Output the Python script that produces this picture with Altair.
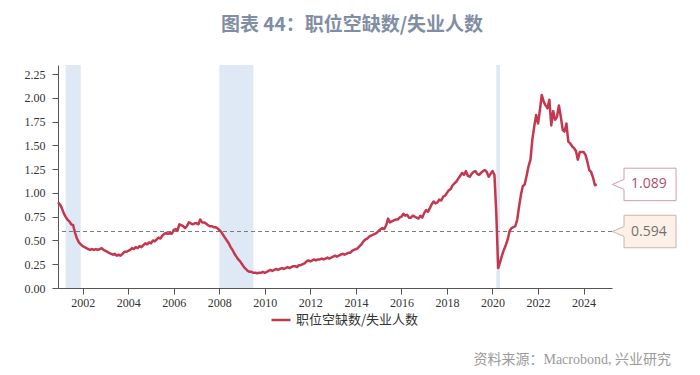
import altair as alt
import pandas as pd

# ---- data ----
series_name = "职位空缺数/失业人数"
v2000 = [0.90]
v2001 = [0.88, 0.84, 0.79, 0.75, 0.72, 0.70, 0.67, 0.66, 0.58, 0.52, 0.48, 0.46]
v2002 = [0.44, 0.43, 0.42, 0.41, 0.40, 0.41, 0.40, 0.41, 0.40, 0.41, 0.42, 0.40]
v2003 = [0.39, 0.38, 0.37, 0.36, 0.35, 0.36, 0.34, 0.35, 0.34, 0.36, 0.38, 0.38]
v2004 = [0.39, 0.40, 0.42, 0.41, 0.43, 0.42, 0.44, 0.43, 0.45, 0.47, 0.46, 0.48]
v2005 = [0.47, 0.50, 0.49, 0.51, 0.53, 0.52, 0.55, 0.57, 0.58, 0.57, 0.58, 0.57]
v2006 = [0.61, 0.62, 0.60, 0.67, 0.66, 0.65, 0.63, 0.65, 0.69, 0.68, 0.67, 0.68]
v2007 = [0.68, 0.67, 0.72, 0.69, 0.69, 0.68, 0.66, 0.65, 0.65, 0.64, 0.64, 0.63]
v2008 = [0.61, 0.59, 0.56, 0.53, 0.50, 0.47, 0.43, 0.40, 0.36, 0.33, 0.30, 0.28]
v2009 = [0.25, 0.22, 0.20, 0.18, 0.17, 0.17, 0.16, 0.16, 0.155, 0.16, 0.16, 0.17]
v2010 = [0.16, 0.17, 0.18, 0.19, 0.18, 0.19, 0.20, 0.19, 0.20, 0.21, 0.20, 0.21]
v2011 = [0.22, 0.21, 0.22, 0.23, 0.23, 0.22, 0.24, 0.24, 0.25, 0.26, 0.28, 0.29]
v2012 = [0.28, 0.29, 0.30, 0.29, 0.30, 0.30, 0.31, 0.30, 0.31, 0.32, 0.31, 0.32]
v2013 = [0.33, 0.34, 0.33, 0.34, 0.35, 0.36, 0.35, 0.36, 0.37, 0.37, 0.39, 0.40]
v2014 = [0.41, 0.42, 0.44, 0.46, 0.49, 0.51, 0.52, 0.54, 0.55, 0.56, 0.57, 0.58]
v2015 = [0.60, 0.62, 0.63, 0.62, 0.66, 0.73, 0.69, 0.70, 0.71, 0.72, 0.72, 0.74]
v2016 = [0.75, 0.78, 0.76, 0.77, 0.74, 0.74, 0.76, 0.75, 0.74, 0.73, 0.76, 0.74]
v2017 = [0.79, 0.82, 0.80, 0.84, 0.88, 0.91, 0.89, 0.90, 0.93, 0.92, 0.96, 0.97]
v2018 = [1.00, 1.03, 1.04, 1.08, 1.10, 1.12, 1.15, 1.18, 1.21, 1.19, 1.23, 1.18]
v2019 = [1.17, 1.20, 1.22, 1.23, 1.20, 1.19, 1.21, 1.23, 1.24, 1.22, 1.17, 1.20]
v2020 = [1.23, 1.19, 0.80, 0.21, 0.27, 0.34, 0.40, 0.45, 0.51, 0.60, 0.63, 0.64]
v2021 = [0.65, 0.72, 0.85, 0.98, 1.07, 1.09, 1.18, 1.28, 1.35, 1.56, 1.70, 1.82]
v2022 = [1.73, 1.88, 2.03, 1.96, 1.92, 1.89, 1.98, 1.71, 1.86, 1.77, 1.80, 1.92]
v2023 = [1.80, 1.66, 1.645, 1.73, 1.54, 1.52, 1.49, 1.47, 1.44, 1.35, 1.43, 1.43]
v2024 = [1.43, 1.40, 1.33, 1.24, 1.22, 1.16, 1.08, 1.089]

first_month = "2000-12-01"

rec_start = ["2001-04-01", "2008-01-01", "2020-03-01"]
rec_end = ["2001-12-01", "2009-07-01", "2020-05-01"]

ref_value = [0.594]

callout_values = [1.089, 0.594]
callout_labels = ["1.089", "0.594"]
callout_fill = ["#ffffff", "#fdf0e6"]
callout_stroke = ["#d29aaa", "#c4b8ad"]
callout_text = ["#a9506a", "#707070"]

y_ticks = [0.0, 0.25, 0.5, 0.75, 1.0, 1.25, 1.5, 1.75, 2.0, 2.25]
x_tick_years = list(range(2002, 2025, 2))

title_text = "图表 44：职位空缺数/失业人数"
source_text = "资料来源：Macrobond, 兴业研究"

# ---- tables ----
values = (v2000 + v2001 + v2002 + v2003 + v2004 + v2005 + v2006 + v2007 + v2008
          + v2009 + v2010 + v2011 + v2012 + v2013 + v2014 + v2015 + v2016 + v2017
          + v2018 + v2019 + v2020 + v2021 + v2022 + v2023 + v2024)
months = pd.date_range(first_month, periods=len(values), freq="MS")
df = pd.DataFrame({"date": months, "ratio": values, "series": series_name})
rec_df = pd.DataFrame({"start": pd.to_datetime(rec_start), "end": pd.to_datetime(rec_end)})
ref_df = pd.DataFrame({"value": ref_value})

LINE = "#c4384f"
SERIF = "Liberation Serif, Noto Sans CJK SC"
CJK = "Noto Sans CJK SC"

x_scale = alt.Scale(domain=[alt.DateTime(year=2000, month=12, date=1),
                            alt.DateTime(year=2025, month=4, date=1)], nice=False)
y_scale = alt.Scale(domain=[0, 2.345], nice=False, zero=True)

x_axis = alt.Axis(values=[alt.DateTime(year=y, month=1, date=1) for y in x_tick_years],
                  format="%Y", title=None, grid=False, labelFont=SERIF, labelFontSize=12,
                  labelColor="#333333", tickSize=6, tickColor="#555555",
                  domainColor="#555555", labelPadding=3, labelFlush=False)
y_axis = alt.Axis(values=y_ticks, format=".2f", title=None, grid=False, labelFont=SERIF,
                  labelFontSize=12, labelColor="#333333", tickSize=6,
                  tickColor="#555555", domainColor="#555555", labelPadding=7)

rec = alt.Chart(rec_df).mark_rect(color="#dfe9f5").encode(
    x=alt.X("start:T", scale=x_scale, axis=x_axis),
    x2="end:T",
)

rule = alt.Chart(ref_df).mark_rule(color="#7a7a7a", strokeDash=[4, 3], strokeWidth=1).encode(
    y=alt.Y("value:Q", scale=y_scale, axis=y_axis)
)

line = alt.Chart(df).mark_line(strokeWidth=2.5, strokeJoin="round").encode(
    x=alt.X("date:T", scale=x_scale, axis=x_axis),
    y=alt.Y("ratio:Q", scale=y_scale, axis=y_axis),
    color=alt.Color("series:N", scale=alt.Scale(domain=[series_name], range=[LINE]),
                    legend=alt.Legend(title=None, orient="none", legendX=212, legendY=244,
                                      symbolType="stroke", symbolSize=360,
                                      symbolStrokeWidth=2.5, labelFont=CJK,
                                      labelFontSize=13, labelColor="#333333",
                                      labelOffset=4)),
)

callout_path = ("M-1,0 L-0.634,-0.157 L-0.634,-0.51 L1,-0.51 L1,0.51 "
                "L-0.634,0.51 L-0.634,0.157 Z")

layers = [rec, rule, line]
for val, lab, fc, sc, tc in zip(callout_values, callout_labels, callout_fill,
                                callout_stroke, callout_text):
    cdf = pd.DataFrame({"value": [val], "label": [lab]})
    box = alt.Chart(cdf).mark_point(shape=callout_path, size=4058, filled=False,
                                    fill=fc, stroke=sc, strokeWidth=1, opacity=1,
                                    fillOpacity=1, strokeOpacity=1).encode(
        y=alt.Y("value:Q", scale=y_scale, axis=y_axis),
        x=alt.value(586.2),
    )
    txt = alt.Chart(cdf).mark_text(font="Open Sans", fontSize=14, color=tc,
                                   align="center", baseline="middle").encode(
        y=alt.Y("value:Q", scale=y_scale, axis=y_axis),
        x=alt.value(590.8),
        text="label:N",
    )
    layers += [box, txt]

title = alt.Chart(pd.DataFrame({"t": [title_text]})).mark_text(
    font=CJK, fontSize=19, fontWeight="bold", color="#7f8ea4",
    align="center", baseline="middle").encode(
    text="t:N", x=alt.value(294), y=alt.value(-40))

source = alt.Chart(pd.DataFrame({"t": [source_text]})).mark_text(
    font=SERIF, fontSize=14, color="#9a9a9a", align="right", baseline="middle").encode(
    text="t:N", x=alt.value(613), y=alt.value(295))

chart = alt.layer(*layers, title, source).properties(
    width=554, height=223, autosize="none",
    padding={"left": 50, "top": 57, "right": 80, "bottom": 79},
    background="white",
).configure_view(stroke=None)

chart.save("out.html", embed_options={"renderer": "svg", "actions": False})
